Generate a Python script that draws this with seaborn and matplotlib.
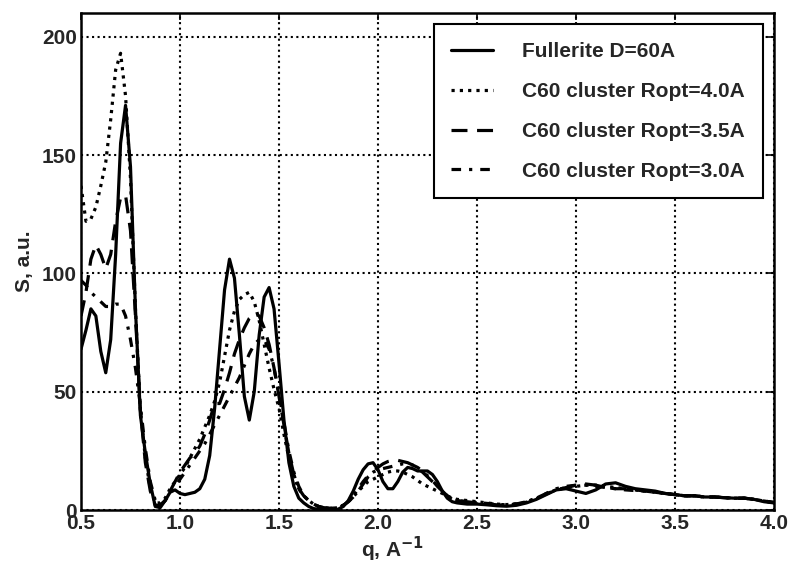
import numpy as np
import pandas as pd
import seaborn as sns
import matplotlib
matplotlib.use("Agg")
import matplotlib.pyplot as plt

# q sampling: 0.025 steps up to 2.375, then 0.05 steps to 4.0
q = np.round(np.concatenate([np.arange(0.5, 2.3875, 0.025),
                             np.arange(2.4, 4.0001, 0.05)]), 3)

labels = ["Fullerite D=60A", "C60 cluster Ropt=4.0A",
          "C60 cluster Ropt=3.5A", "C60 cluster Ropt=3.0A"]

s_fullerite = [
    68, 76, 85, 82, 67, 58, 72, 108,
    155, 171, 145, 85, 40, 24, 11, 1.5,
    1, 4, 7.5, 8.5, 7, 6.5, 7, 7.5,
    9, 13, 23, 43, 68, 93, 106, 98,
    74, 48, 38, 50, 74, 90, 94, 85,
    62, 38, 20, 10, 5, 3, 1.5, 0.6,
    0.3, 0.1, 0, 0, 0.4, 1.5, 4, 8,
    13, 17, 19.5, 20, 17, 12, 9, 9,
    12, 16, 18, 17.5, 16.5, 16.5, 16.5, 15,
    12, 8, 5, 3.5,
    3, 2.5, 2.5, 2.2, 1.8, 1.6, 2, 3,
    4.5, 6.5, 8.5, 9, 8, 7, 8.5, 11,
    11.5, 10, 9, 8.5, 8, 7, 6.5, 6,
    6, 5.5, 5.5, 5.2, 5, 5, 4.5, 3.5,
    3]

s_r40 = [
    137, 122, 123, 128, 137, 147, 165, 186,
    193, 175, 140, 85, 42, 22, 9, 3,
    3, 5, 9, 12, 15, 18, 22, 26,
    30, 35, 40, 46, 54, 65, 76, 84,
    89, 91, 92, 88, 80, 70, 60, 51,
    43, 32, 22, 14, 9, 6, 4, 2.5,
    1.5, 1, 0.8, 0.8, 1, 2, 3.5, 5.5,
    8, 10, 12, 13, 14, 15, 16, 16.5,
    16.5, 16, 15, 14, 12.5, 11, 10, 9,
    8, 7, 6, 5,
    4.5, 4, 3.5, 3, 2.5, 2.3, 2.6, 3.5,
    5, 7, 8.5, 9.5, 10, 10.5, 10.5, 10,
    9.5, 9, 8.5, 8, 7.5, 7, 6.5, 6,
    6, 5.5, 5.5, 5.2, 5, 5, 4.5, 3.8,
    3.2]

s_r35 = [
    82, 92, 106, 112, 108, 102, 108, 122,
    132, 133, 118, 82, 42, 20, 8, 2,
    2, 4, 8, 12, 16, 19, 22, 24,
    27, 32, 38, 45, 45, 51, 58, 66,
    72, 77, 81, 83, 82, 77, 70, 60,
    48, 36, 24, 15, 9, 6, 4, 2.5,
    1.5, 1, 0.8, 0.8, 1, 2, 3.5, 5.5,
    8, 11, 14, 16, 18, 19.5, 20.5, 21,
    21, 20.5, 20, 19, 17.5, 16, 14, 12,
    10, 8, 6, 4.5,
    4, 3.5, 3, 2.6, 2.2, 2, 2.5, 3.3,
    4.8, 6.8, 8.5, 9.5, 10.5, 11, 10.5, 9.5,
    9, 9, 8.5, 8, 7.5, 7, 6.5, 6,
    6, 5.5, 5.5, 5.2, 5, 5, 4.5, 3.8,
    3.2]

s_r30 = [
    97, 95, 92, 90, 88, 86, 86, 87,
    87, 82, 72, 60, 44, 26, 12, 4,
    2, 4, 7, 10, 13, 16, 19, 22,
    25, 28, 32, 36, 40, 44, 48, 52,
    56, 61, 66, 70, 72, 72, 68, 60,
    49, 37, 25, 16, 10, 6, 4, 2.5,
    1.5, 1, 0.8, 0.8, 1, 2, 3.5, 6,
    9, 12, 14.5, 16, 17, 17.5, 18, 18.5,
    19, 19.5, 19.5, 19, 18, 16.5, 14.5, 12.5,
    10, 8, 6, 4.5,
    4, 3.5, 3.2, 2.8, 2.4, 2.2, 2.6, 3.4,
    5, 7, 9, 10, 10.5, 10.5, 10, 9.5,
    9, 8.5, 8.2, 8, 7.5, 7, 6.5, 6,
    6, 5.5, 5.5, 5.2, 5, 5, 4.5, 3.8,
    3.2]

series = [s_fullerite, s_r40, s_r35, s_r30]
styles = ["-", (0, (1, 1.6)), (0, (5, 3)), (0, (3, 2.5, 1, 2.5))]

sns.set_style("white")
plt.rcParams["font.family"] = ["Liberation Sans", "DejaVu Sans"]
plt.rcParams["font.weight"] = "bold"
plt.rcParams["xtick.direction"] = "in"
plt.rcParams["ytick.direction"] = "in"

fig = plt.figure(figsize=(7.88, 5.67), dpi=100)
ax = fig.add_axes([0.1028, 0.1005, 0.8794, 0.8765])

for vals, lab, ls in zip(series, labels, styles):
    assert len(vals) == len(q)
    df = pd.DataFrame({"q": q, "S": vals})
    sns.lineplot(data=df, x="q", y="S", ax=ax, color="black", lw=2.3,
                 linestyle=ls, label=lab, solid_joinstyle="round",
                 dash_joinstyle="round")

ax.set_xlim(0.5, 4.0)
ax.set_ylim(0, 210)
ax.set_xticks([0.5, 1.0, 1.5, 2.0, 2.5, 3.0, 3.5, 4.0])
ax.set_xticklabels(["0.5", "1.0", "1.5", "2.0", "2.5", "3.0", "3.5", "4.0"])
ax.set_yticks([0, 50, 100, 150, 200])
ax.grid(True, color="black", linestyle=":", linewidth=1.5)
ax.tick_params(axis="both", which="both", top=True, right=True, length=5,
               width=1.2, labelsize=15, pad=3, color="black")
for sp in ax.spines.values():
    sp.set_color("black")
    sp.set_linewidth(1.8)

ax.set_xlabel(r"q, A$^{-1}$", fontsize=15, fontweight="bold", labelpad=0)
ax.xaxis.set_label_coords(0.45, -0.05)
ax.set_ylabel("S, a.u.", fontsize=15, fontweight="bold", labelpad=6)

leg = ax.legend(loc="upper right", fontsize=15, frameon=True, fancybox=False,
                handlelength=2.0, labelspacing=1.0, borderaxespad=0.55,
                borderpad=0.85, handletextpad=1.4)
leg.get_frame().set_edgecolor("black")
leg.get_frame().set_linewidth(1.5)
leg.get_frame().set_alpha(1.0)

fig.savefig("out.png", dpi=100)
